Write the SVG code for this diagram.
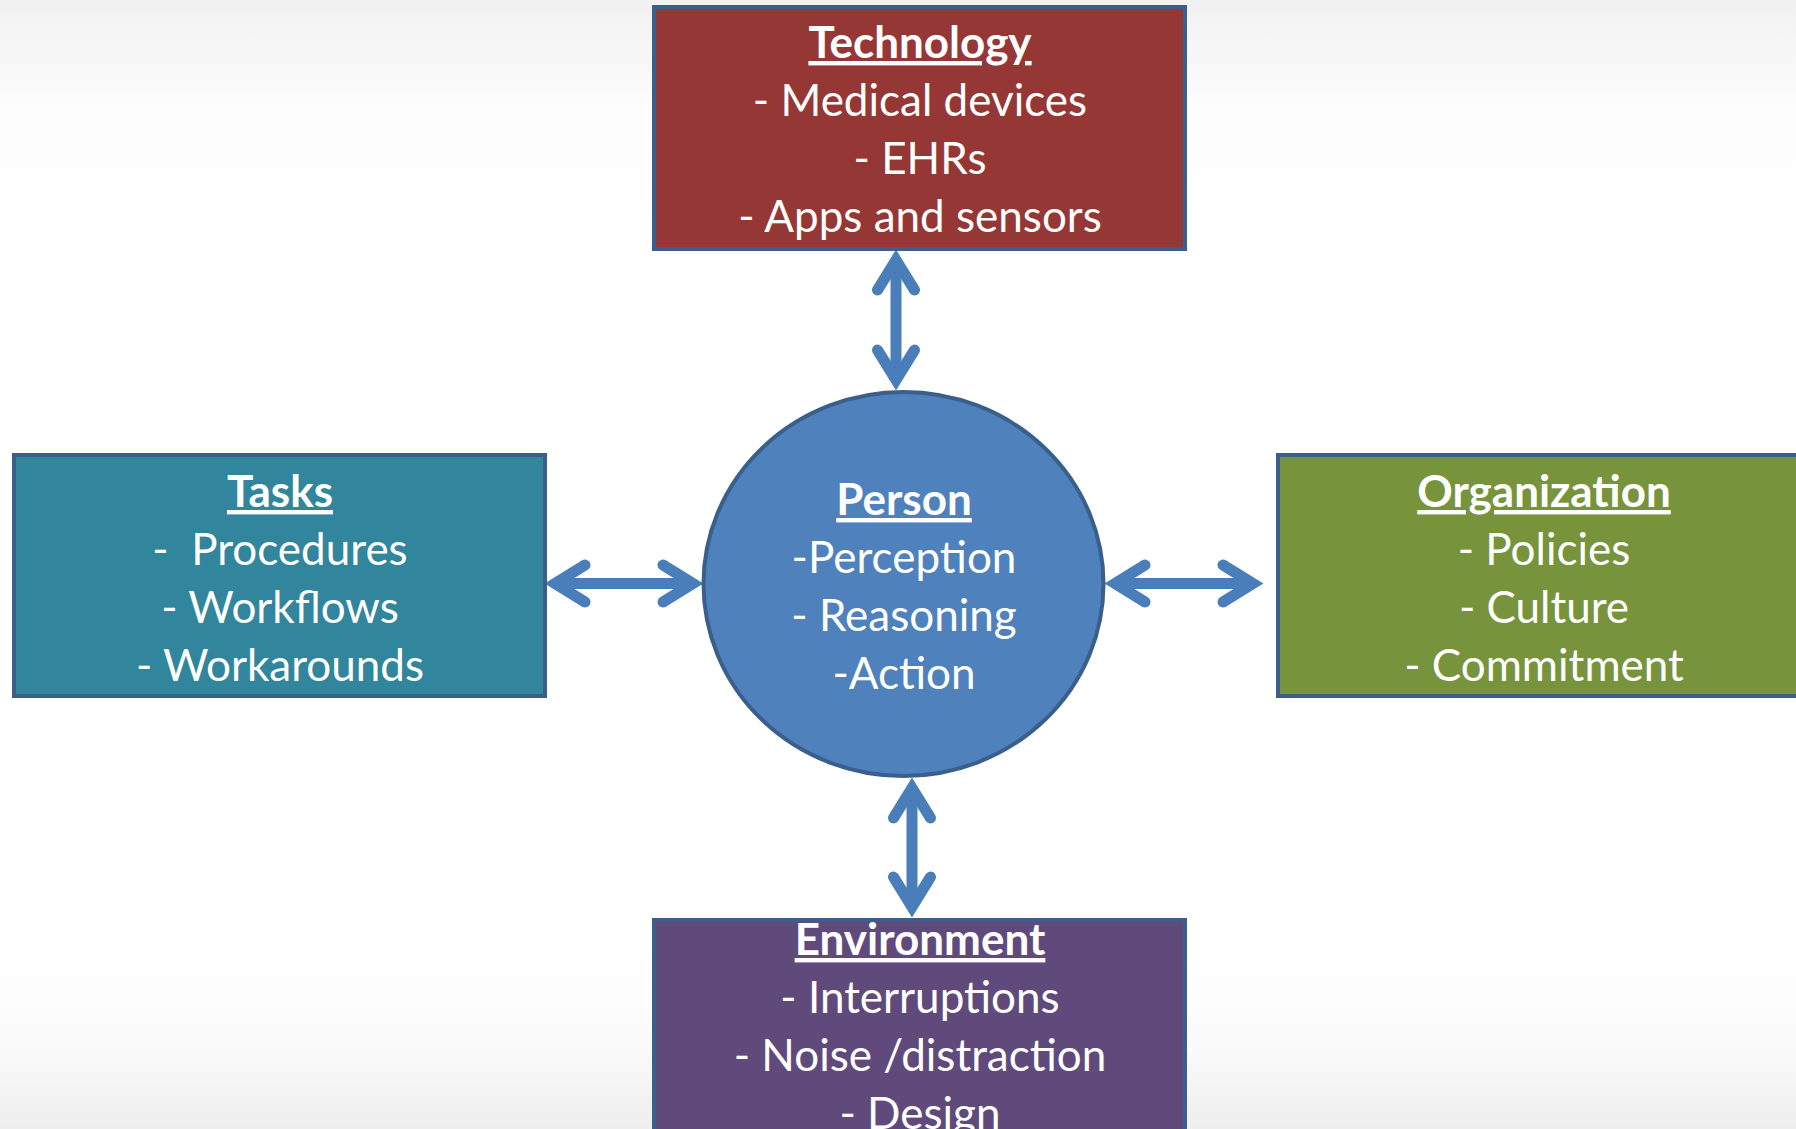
<svg xmlns="http://www.w3.org/2000/svg" width="1796" height="1129" viewBox="0 0 1796 1129">
  <style>
    .box { stroke: #3A5F8B; stroke-width: 4; }
    .t { font-family: Lato, "Open Sans", "Liberation Sans", sans-serif; font-size: 44px; fill: #FFFFFF; text-anchor: middle; }
    .h { font-weight: bold; text-decoration: underline; }
    .pre { white-space: pre; }
    .conn { stroke: #4A7EBB; stroke-width: 11; fill: none; marker-start: url(#chev); marker-end: url(#chev); }
  </style>
  <defs>
    <linearGradient id="bg" x1="0" y1="0" x2="0" y2="1">
      <stop offset="0" stop-color="#F1F1F1"/>
      <stop offset="0.09" stop-color="#FCFCFC"/>
      <stop offset="0.2" stop-color="#FFFFFF"/>
      <stop offset="0.84" stop-color="#FFFFFF"/>
      <stop offset="0.93" stop-color="#FAFAFA"/>
      <stop offset="1" stop-color="#EEEEEE"/>
    </linearGradient>
    <marker id="chev" markerUnits="userSpaceOnUse" viewBox="-50 -35 70 70" refX="0" refY="0" markerWidth="70" markerHeight="70" orient="auto-start-reverse" overflow="visible">
      <path d="M-30,-18.5 L0,0 L-30,18.5" fill="none" stroke="#4A7EBB" stroke-width="11" stroke-linecap="round" stroke-linejoin="miter"/>
    </marker>
  </defs>
  <rect x="0" y="0" width="1796" height="1129" fill="url(#bg)"/>

  <g id="connectors">
    <line class="conn" x1="896" y1="260" x2="896" y2="380"/>
    <line class="conn" x1="555" y1="583.5" x2="693" y2="583.5"/>
    <line class="conn" x1="1115" y1="583.5" x2="1253" y2="583.5"/>
    <line class="conn" x1="912" y1="788" x2="912" y2="907"/>
  </g>

  <g id="technology">
    <rect class="box" x="654" y="7" width="531" height="242" fill="#953735"/>
    <text class="t h" x="920" y="58">Technology</text>
    <text class="t" x="920" y="116">- Medical devices</text>
    <text class="t" x="920" y="174">- EHRs</text>
    <text class="t" x="920" y="232">- Apps and sensors</text>
  </g>

  <g id="tasks">
    <rect class="box" x="14" y="455" width="531" height="241" fill="#31859C"/>
    <text class="t h" x="280" y="507">Tasks</text>
    <text class="t pre" x="280" y="565">-  Procedures</text>
    <text class="t" x="280" y="623">- Workflows</text>
    <text class="t" x="280" y="681">- Workarounds</text>
  </g>

  <g id="person">
    <ellipse cx="903.5" cy="584" rx="200" ry="192" fill="#4F81BD" stroke="#3A5F8B" stroke-width="4"/>
    <text class="t h" x="904" y="515">Person</text>
    <text class="t" x="904" y="573">-Perception</text>
    <text class="t" x="904" y="631">- Reasoning</text>
    <text class="t" x="904" y="689">-Action</text>
  </g>

  <g id="organization">
    <rect class="box" x="1278" y="455" width="531" height="241" fill="#77933C"/>
    <text class="t h" x="1544" y="507">Organization</text>
    <text class="t" x="1544" y="565">- Policies</text>
    <text class="t" x="1544" y="623">- Culture</text>
    <text class="t" x="1544" y="681">- Commitment</text>
  </g>

  <g id="environment">
    <rect class="box" x="654" y="920" width="531" height="241" fill="#604A7B"/>
    <text class="t h" x="920" y="955">Environment</text>
    <text class="t" x="920" y="1013">- Interruptions</text>
    <text class="t" x="920" y="1071">- Noise /distraction</text>
    <text class="t" x="920" y="1129">- Design</text>
  </g>
</svg>
